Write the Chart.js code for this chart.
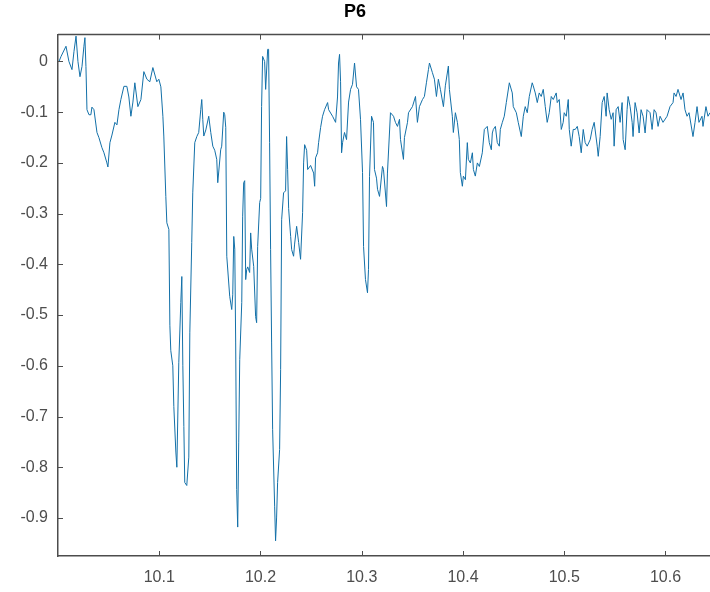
<!DOCTYPE html>
<html>
<head>
<meta charset="utf-8">
<title>P6</title>
<script src="https://cdn.jsdelivr.net/npm/chart.js@4"></script>
<style>
  html, body { margin: 0; padding: 0; background: #fff; overflow: hidden; }
  canvas { display: block; }
</style>
</head>
<body>
<canvas id="p6Chart" width="710" height="592"></canvas>
<script>
"use strict";

const TITLE = "P6";

// time axis (s) and signal
const xValues = [
  10.0010, 10.0030, 10.0079, 10.0108, 10.0138, 10.0158, 10.0178, 10.0197, 10.0217, 10.0237,
  10.0256, 10.0266, 10.0276, 10.0286, 10.0306, 10.0325, 10.0335, 10.0355, 10.0385, 10.0404,
  10.0434, 10.0454, 10.0483, 10.0493, 10.0513, 10.0533, 10.0562, 10.0582, 10.0602, 10.0621,
  10.0651, 10.0680, 10.0700, 10.0720, 10.0740, 10.0759, 10.0789, 10.0819, 10.0848, 10.0878,
  10.0907, 10.0937, 10.0976, 10.0996, 10.1016, 10.1036, 10.1045, 10.1065, 10.1075, 10.1095,
  10.1105, 10.1114, 10.1134, 10.1144, 10.1164, 10.1174, 10.1193, 10.1213, 10.1223, 10.1233,
  10.1243, 10.1252, 10.1272, 10.1292, 10.1302, 10.1321, 10.1331, 10.1351, 10.1371, 10.1390,
  10.1410, 10.1420, 10.1430, 10.1440, 10.1460, 10.1489, 10.1509, 10.1529, 10.1548, 10.1568,
  10.1578, 10.1607, 10.1617, 10.1637, 10.1647, 10.1657, 10.1667, 10.1696, 10.1716, 10.1726,
  10.1736, 10.1746, 10.1755, 10.1765, 10.1775, 10.1785, 10.1795, 10.1815, 10.1824, 10.1834,
  10.1844, 10.1854, 10.1864, 10.1874, 10.1893, 10.1903, 10.1913, 10.1933, 10.1952, 10.1962,
  10.1972, 10.1992, 10.2002, 10.2011, 10.2021, 10.2041, 10.2051, 10.2071, 10.2080, 10.2090,
  10.2100, 10.2110, 10.2120, 10.2140, 10.2149, 10.2159, 10.2169, 10.2189, 10.2199, 10.2209,
  10.2228, 10.2248, 10.2258, 10.2268, 10.2278, 10.2298, 10.2308, 10.2327, 10.2337, 10.2357,
  10.2377, 10.2396, 10.2416, 10.2426, 10.2436, 10.2456, 10.2466, 10.2495, 10.2525, 10.2535,
  10.2544, 10.2564, 10.2574, 10.2594, 10.2613, 10.2633, 10.2663, 10.2673, 10.2712, 10.2742,
  10.2761, 10.2771, 10.2781, 10.2791, 10.2801, 10.2811, 10.2830, 10.2850, 10.2870, 10.2890,
  10.2909, 10.2929, 10.2949, 10.2968, 10.2988, 10.3008, 10.3018, 10.3037, 10.3057, 10.3067,
  10.3077, 10.3097, 10.3116, 10.3126, 10.3146, 10.3156, 10.3176, 10.3205, 10.3215, 10.3245,
  10.3254, 10.3284, 10.3314, 10.3333, 10.3353, 10.3373, 10.3383, 10.3412, 10.3422, 10.3452,
  10.3462, 10.3501, 10.3531, 10.3550, 10.3570, 10.3600, 10.3619, 10.3639, 10.3659, 10.3669,
  10.3698, 10.3718, 10.3738, 10.3757, 10.3777, 10.3807, 10.3826, 10.3856, 10.3866, 10.3895,
  10.3905, 10.3925, 10.3945, 10.3964, 10.3974, 10.3994, 10.4004, 10.4024, 10.4043, 10.4053,
  10.4073, 10.4093, 10.4103, 10.4122, 10.4142, 10.4162, 10.4191, 10.4211, 10.4240, 10.4260,
  10.4280, 10.4290, 10.4300, 10.4320, 10.4339, 10.4359, 10.4369, 10.4389, 10.4408, 10.4428,
  10.4458, 10.4487, 10.4497, 10.4527, 10.4546, 10.4576, 10.4596, 10.4615, 10.4635, 10.4655,
  10.4684, 10.4694, 10.4714, 10.4734, 10.4753, 10.4773, 10.4793, 10.4813, 10.4832, 10.4852,
  10.4872, 10.4892, 10.4921, 10.4931, 10.4951, 10.4971, 10.4990, 10.5000, 10.5020, 10.5040,
  10.5050, 10.5069, 10.5089, 10.5109, 10.5129, 10.5148, 10.5168, 10.5188, 10.5207, 10.5227,
  10.5257, 10.5276, 10.5296, 10.5326, 10.5336, 10.5355, 10.5375, 10.5395, 10.5414, 10.5424,
  10.5444, 10.5464, 10.5483, 10.5493, 10.5513, 10.5533, 10.5552, 10.5572, 10.5582, 10.5602,
  10.5621, 10.5631, 10.5651, 10.5671, 10.5680, 10.5700, 10.5720, 10.5740, 10.5759, 10.5779,
  10.5799, 10.5818, 10.5848, 10.5868, 10.5888, 10.5907, 10.5927, 10.5947, 10.5976, 10.6016,
  10.6045, 10.6075, 10.6085, 10.6105, 10.6124, 10.6154, 10.6174, 10.6193, 10.6213, 10.6233,
  10.6272, 10.6292, 10.6312, 10.6331, 10.6361, 10.6371, 10.6400, 10.6420, 10.6440
];

const p6Values = [
  0.000, 0.010, 0.030, 0.000, -0.016, 0.020, 0.050, 0.000, -0.030, -0.010,
  0.030, 0.047, -0.010, -0.095, -0.105, -0.105, -0.090, -0.095, -0.140, -0.150,
  -0.170, -0.180, -0.200, -0.208, -0.160, -0.145, -0.120, -0.125, -0.095, -0.075,
  -0.049, -0.049, -0.070, -0.108, -0.080, -0.042, -0.089, -0.075, -0.020, -0.035,
  -0.040, -0.012, -0.040, -0.035, -0.050, -0.108, -0.147, -0.266, -0.318, -0.331,
  -0.520, -0.570, -0.600, -0.680, -0.770, -0.800, -0.594, -0.475, -0.424, -0.600,
  -0.720, -0.830, -0.836, -0.780, -0.535, -0.357, -0.259, -0.160, -0.148, -0.140,
  -0.095, -0.075, -0.114, -0.147, -0.135, -0.108, -0.140, -0.167, -0.175, -0.193,
  -0.239, -0.174, -0.167, -0.100, -0.105, -0.130, -0.384, -0.463, -0.489, -0.460,
  -0.345, -0.370, -0.555, -0.844, -0.918, -0.752, -0.588, -0.475, -0.305, -0.239,
  -0.235, -0.430, -0.410, -0.405, -0.416, -0.338, -0.370, -0.404, -0.503, -0.515,
  -0.365, -0.278, -0.270, -0.089, 0.010, 0.000, -0.055, 0.024, 0.024, -0.160,
  -0.371, -0.555, -0.726, -0.878, -0.945, -0.900, -0.830, -0.765, -0.607, -0.312,
  -0.259, -0.255, -0.148, -0.213, -0.290, -0.345, -0.371, -0.384, -0.360, -0.325,
  -0.357, -0.390, -0.298, -0.200, -0.164, -0.175, -0.213, -0.205, -0.220, -0.246,
  -0.190, -0.180, -0.160, -0.130, -0.108, -0.095, -0.081, -0.095, -0.108, -0.120,
  -0.070, -0.003, 0.014, -0.040, -0.180, -0.160, -0.140, -0.154, -0.080, -0.055,
  -0.045, -0.003, -0.050, -0.055, -0.114, -0.219, -0.365, -0.430, -0.456, -0.410,
  -0.227, -0.108, -0.120, -0.213, -0.230, -0.252, -0.266, -0.207, -0.213, -0.286,
  -0.220, -0.101, -0.108, -0.120, -0.128, -0.114, -0.154, -0.193, -0.150, -0.120,
  -0.101, -0.089, -0.069, -0.120, -0.089, -0.075, -0.069, -0.042, -0.016, -0.003,
  -0.022, -0.035, -0.069, -0.035, -0.055, -0.089, -0.048, -0.009, -0.055, -0.108,
  -0.140, -0.101, -0.120, -0.154, -0.219, -0.246, -0.226, -0.233, -0.160, -0.193,
  -0.200, -0.180, -0.213, -0.226, -0.200, -0.207, -0.180, -0.134, -0.128, -0.160,
  -0.174, -0.141, -0.134, -0.128, -0.160, -0.167, -0.134, -0.120, -0.108, -0.081,
  -0.042, -0.062, -0.089, -0.101, -0.120, -0.148, -0.108, -0.089, -0.101, -0.069,
  -0.042, -0.048, -0.062, -0.081, -0.062, -0.069, -0.055, -0.089, -0.120, -0.101,
  -0.069, -0.075, -0.062, -0.081, -0.075, -0.134, -0.120, -0.101, -0.108, -0.075,
  -0.134, -0.167, -0.134, -0.134, -0.128, -0.148, -0.180, -0.134, -0.160, -0.167,
  -0.154, -0.134, -0.120, -0.167, -0.187, -0.148, -0.081, -0.069, -0.108, -0.062,
  -0.095, -0.114, -0.101, -0.167, -0.095, -0.089, -0.120, -0.081, -0.154, -0.174,
  -0.095, -0.069, -0.089, -0.120, -0.148, -0.081, -0.101, -0.141, -0.095, -0.108,
  -0.141, -0.095, -0.101, -0.134, -0.095, -0.101, -0.128, -0.108, -0.120, -0.108,
  -0.089, -0.081, -0.062, -0.069, -0.055, -0.075, -0.062, -0.095, -0.108, -0.101,
  -0.148, -0.120, -0.089, -0.120, -0.108, -0.128, -0.089, -0.108, -0.101
];

const xTicks = [10.1, 10.2, 10.3, 10.4, 10.5, 10.6];
const xTickLabels = ["10.1", "10.2", "10.3", "10.4", "10.5", "10.6"];
const yTicks = [0, -0.1, -0.2, -0.3, -0.4, -0.5, -0.6, -0.7, -0.8, -0.9];
const yTickLabels = ["0", "-0.1", "-0.2", "-0.3", "-0.4", "-0.5", "-0.6", "-0.7", "-0.8", "-0.9"];

const X_MIN = 10.0, X_MAX = 10.644;
const Y_MIN = -0.975, Y_MAX = 0.053;

const AXIS_COLOR = "#4d4d4d";
const LINE_COLOR = "#1370a8";
const FONT = "'Liberation Sans', Arial, sans-serif";

// MATLAB style: box on top, ticks pointing into the plot
const inwardTicks = {
  id: "inwardTicks",
  afterDraw(chart) {
    const ctx = chart.ctx;
    const area = chart.chartArea;
    const xs = chart.scales.x;
    const ys = chart.scales.y;
    ctx.save();
    ctx.strokeStyle = AXIS_COLOR;
    ctx.lineWidth = 1.5;
    ctx.beginPath();
    ctx.moveTo(area.left, area.top);
    ctx.lineTo(area.right, area.top);
    ctx.stroke();
    ctx.lineWidth = 1;
    ctx.beginPath();
    xTicks.forEach(v => {
      const px = Math.round(xs.getPixelForValue(v)) + 0.5;
      ctx.moveTo(px, area.bottom);
      ctx.lineTo(px, area.bottom - 5);
      ctx.moveTo(px, area.top);
      ctx.lineTo(px, area.top + 5);
    });
    yTicks.forEach(v => {
      const py = Math.round(ys.getPixelForValue(v)) + 0.5;
      ctx.moveTo(area.left, py);
      ctx.lineTo(area.left + 5, py);
    });
    ctx.stroke();
    ctx.restore();
  }
};

document.addEventListener("DOMContentLoaded", function () {
  const points = xValues.map((x, i) => ({ x: x, y: p6Values[i] }));
  const ctx = document.getElementById("p6Chart").getContext("2d");

  const _ = new Chart(ctx, {
    type: "line",
    data: {
      datasets: [{
        label: TITLE,
        data: points,
        borderColor: LINE_COLOR,
        borderWidth: 1,
        pointRadius: 0,
        tension: 0,
        fill: false,
      }],
    },
    options: {
      responsive: false,
      animation: false,
      layout: { padding: { left: 0, right: 0, top: 0, bottom: 0 } },
      plugins: {
        legend: { display: false },
        tooltip: { enabled: false },
        title: {
          display: true,
          text: TITLE,
          color: "#000",
          font: { family: FONT, size: 18, weight: "bold" },
          padding: { top: 1, bottom: 12 },
        },
      },
      scales: {
        x: {
          type: "linear",
          min: X_MIN,
          max: X_MAX,
          afterBuildTicks: scale => { scale.ticks = xTicks.map(v => ({ value: v })); },
          afterFit: scale => { scale.height = 36; },
          ticks: {
            color: AXIS_COLOR,
            font: { family: FONT, size: 16 },
            padding: 12,
            maxRotation: 0,
            callback: (v) => xTickLabels[xTicks.indexOf(v)] ?? "",
          },
          grid: { drawOnChartArea: false, drawTicks: false },
          border: { display: true, color: AXIS_COLOR, width: 1.5 },
        },
        y: {
          type: "linear",
          min: Y_MIN,
          max: Y_MAX,
          afterBuildTicks: scale => { scale.ticks = yTicks.map(v => ({ value: v })); },
          afterFit: scale => { scale.width = 58; },
          ticks: {
            color: AXIS_COLOR,
            font: { family: FONT, size: 16 },
            padding: 10,
            callback: (v) => yTickLabels[yTicks.indexOf(v)] ?? "",
          },
          grid: { drawOnChartArea: false, drawTicks: false },
          border: { display: true, color: AXIS_COLOR, width: 1.5 },
        },
      },
    },
    plugins: [inwardTicks],
  });
});
</script>
</body>
</html>
